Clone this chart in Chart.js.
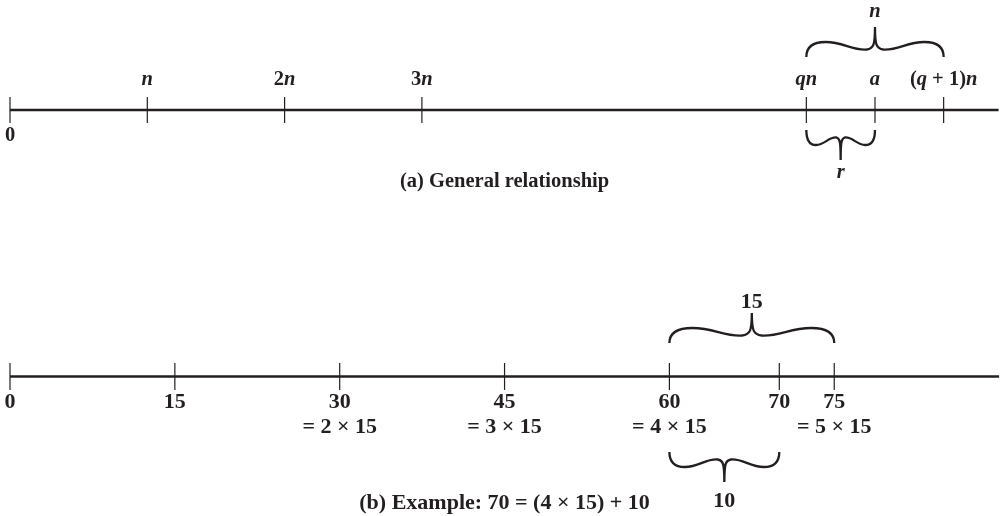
<!DOCTYPE html>
<html>
<head>
<meta charset="utf-8">
<script src="https://cdn.jsdelivr.net/npm/chart.js@4.4.1/dist/chart.umd.min.js"></script>
<style>
  html, body { margin: 0; padding: 0; background: #fff; }
  #wrap { width: 1002px; height: 516px; }
</style>
</head>
<body>
<div id="wrap"><canvas id="c" width="1002" height="516"></canvas></div>
<script>
// (a) general relationship -- positions measured in units of n
const generalTicks = [0, 1, 2, 3, 5.8, 6.3, 6.8];
const generalLabels = ['0', '*n*', '2*n*', '3*n*', '*qn*', '*a*', '(*q* + 1)*n*'];
const generalLineEnd = 7.2;
const generalBraceFrom = [5.8, 5.8];
const generalBraceTo = [6.8, 6.3];
const generalBraceLabels = ['*n*', '*r*'];

// (b) example with a = 70, n = 15
const exampleTicks = [0, 15, 30, 45, 60, 70, 75];
const exampleLabels = ['0', '15', '30', '45', '60', '70', '75'];
const exampleMultiples = ['', '', '= 2 × 15', '= 3 × 15', '= 4 × 15', '', '= 5 × 15'];
const exampleLineEnd = 90;
const exampleBraceFrom = [60, 60];
const exampleBraceTo = [75, 70];
const exampleBraceLabels = ['15', '10'];

const captions = ['(a) General relationship', '(b) Example: 70 = (4 × 15) + 10'];

const ink = '#231f20';
const FONT = '"Liberation Serif", "Times New Roman", serif';
const sizeA = 20.5, sizeB = 22;

// vertical layout (y scale runs 0..516 top to bottom)
const rowA = { line: 110, half: 13, above: 85, below: 141, braceUp: 57, braceDown: 130, upLabel: 17, downLabel: 178, caption: 187 };
const rowB = { line: 376.5, half: 13.5, below: 408, below2: 433, braceUp: 343, braceDown: 452, upLabel: 308, downLabel: 507, caption: 509 };

// draw text where *...* parts are italic
function richText(ctx, txt, cx, y, size) {
  const parts = txt.split('*').map((s, i) => ({ s, it: i % 2 === 1 })).filter(p => p.s);
  let total = 0;
  parts.forEach(p => {
    ctx.font = (p.it ? 'italic ' : '') + 'bold ' + size + 'px ' + FONT;
    p.w = ctx.measureText(p.s).width;
    total += p.w;
  });
  let x = cx - total / 2;
  parts.forEach(p => {
    ctx.font = (p.it ? 'italic ' : '') + 'bold ' + size + 'px ' + FONT;
    ctx.fillText(p.s, x, y);
    x += p.w;
  });
}

// curly brace between x1 and x2; dir -1 points up, +1 points down
function brace(ctx, x1, x2, yEnd, dir) {
  const w = x2 - x1, xm = (x1 + x2) / 2;
  const Y = o => yEnd + dir * o;
  const tip = 30;
  ctx.beginPath();
  [[x1, 1], [x2, -1]].forEach(([xs, s]) => {
    ctx.moveTo(xs, Y(0));
    ctx.bezierCurveTo(xs, Y(9), xs + s * 0.04 * w, Y(15), xs + s * 0.14 * w, Y(15));
    ctx.bezierCurveTo(xs + s * 0.27 * w, Y(15), xm - s * 0.17 * w, Y(6.5), xm - s * 0.06 * w, Y(7.5));
    ctx.bezierCurveTo(xm - s * 0.01 * w, Y(8.5), xm, Y(12), xm, Y(tip));
  });
  ctx.stroke();
}

const diagram = {
  id: 'diagram',
  afterDatasetsDraw(chart) {
    const ctx = chart.ctx;
    const xa = chart.scales.xa, xb = chart.scales.xb, y = chart.scales.y;
    ctx.save();
    ctx.fillStyle = ink;
    ctx.strokeStyle = ink;
    ctx.textBaseline = 'alphabetic';
    ctx.lineWidth = 2.3;
    ctx.lineCap = 'butt';

    // (a) labels
    generalTicks.forEach((v, i) => {
      const row = v === 0 ? rowA.below : rowA.above;
      richText(ctx, generalLabels[i], xa.getPixelForValue(v), y.getPixelForValue(row), sizeA);
    });
    brace(ctx, xa.getPixelForValue(generalBraceFrom[0]), xa.getPixelForValue(generalBraceTo[0]), y.getPixelForValue(rowA.braceUp), -1);
    brace(ctx, xa.getPixelForValue(generalBraceFrom[1]), xa.getPixelForValue(generalBraceTo[1]), y.getPixelForValue(rowA.braceDown), 1);
    richText(ctx, generalBraceLabels[0], xa.getPixelForValue((generalBraceFrom[0] + generalBraceTo[0]) / 2), y.getPixelForValue(rowA.upLabel), sizeA);
    richText(ctx, generalBraceLabels[1], xa.getPixelForValue((generalBraceFrom[1] + generalBraceTo[1]) / 2), y.getPixelForValue(rowA.downLabel), sizeA);

    // (b) labels
    exampleTicks.forEach((v, i) => {
      const px = xb.getPixelForValue(v);
      richText(ctx, exampleLabels[i], px, y.getPixelForValue(rowB.below), sizeB);
      if (exampleMultiples[i]) richText(ctx, exampleMultiples[i], px, y.getPixelForValue(rowB.below2), sizeB);
    });
    brace(ctx, xb.getPixelForValue(exampleBraceFrom[0]), xb.getPixelForValue(exampleBraceTo[0]), y.getPixelForValue(rowB.braceUp), -1);
    brace(ctx, xb.getPixelForValue(exampleBraceFrom[1]), xb.getPixelForValue(exampleBraceTo[1]), y.getPixelForValue(rowB.braceDown), 1);
    richText(ctx, exampleBraceLabels[0], xb.getPixelForValue((exampleBraceFrom[0] + exampleBraceTo[0]) / 2), y.getPixelForValue(rowB.upLabel), sizeB);
    richText(ctx, exampleBraceLabels[1], xb.getPixelForValue((exampleBraceFrom[1] + exampleBraceTo[1]) / 2), y.getPixelForValue(rowB.downLabel), sizeB);

    // captions, centred under the 45 mark
    richText(ctx, captions[0], xb.getPixelForValue(45), y.getPixelForValue(rowA.caption), sizeA);
    richText(ctx, captions[1], xb.getPixelForValue(45), y.getPixelForValue(rowB.caption), sizeB);
    ctx.restore();
  }
};

function numberLine(axis, end, row) {
  return {
    type: 'line', xAxisID: axis, yAxisID: 'y',
    data: [{ x: 0, y: row }, { x: end, y: row }],
    borderColor: ink, borderWidth: 2.5, borderCapStyle: 'butt',
    pointRadius: 0, clip: false
  };
}
function tickMarks(axis, ticks, row, half) {
  return {
    type: 'scatter', xAxisID: axis, yAxisID: 'y',
    data: ticks.map(v => ({ x: v, y: row })),
    pointStyle: 'line', pointRotation: 90, pointRadius: half,
    pointBorderWidth: 1.2, pointBorderColor: ink, pointBackgroundColor: ink,
    showLine: false, clip: false
  };
}

new Chart(document.getElementById('c'), {
  type: 'scatter',
  data: {
    datasets: [
      numberLine('xa', generalLineEnd, rowA.line),
      tickMarks('xa', generalTicks, rowA.line, rowA.half),
      numberLine('xb', exampleLineEnd, rowB.line),
      tickMarks('xb', exampleTicks, rowB.line, rowB.half)
    ]
  },
  options: {
    responsive: false,
    animation: false,
    events: [],
    layout: { padding: 0, autoPadding: false },
    plugins: { legend: { display: false }, tooltip: { enabled: false } },
    scales: {
      // one n = 137.3px, 0 sits 10px in from the left
      xa: { type: 'linear', display: false, min: -10 / 137.3, max: (1002 - 10) / 137.3 },
      // one unit = 10.99px
      xb: { type: 'linear', display: false, min: -10 / 10.99, max: (1002 - 10) / 10.99 },
      y: { type: 'linear', display: false, min: 0, max: 516, reverse: true }
    }
  },
  plugins: [diagram]
});
</script>
</body>
</html>
